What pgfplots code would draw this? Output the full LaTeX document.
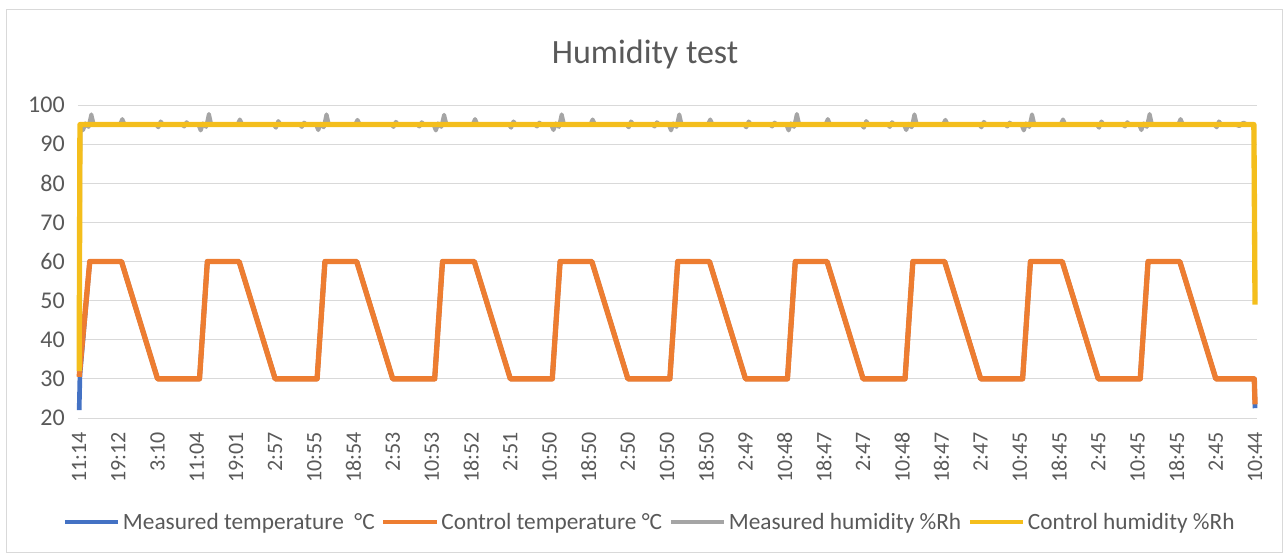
\documentclass[border=0pt]{standalone}
\usepackage{fontspec}
\setmainfont{Carlito}
\usepackage{pgfplots}
\pgfplotsset{compat=1.18}
\definecolor{mtemp}{HTML}{4472C4}
\definecolor{ctemp}{HTML}{ED7D31}
\definecolor{mhum}{HTML}{A5A5A5}
\definecolor{chum}{HTML}{F4BE1C}
\definecolor{txt}{HTML}{595959}
\definecolor{gridc}{HTML}{D9D9D9}

\begin{document}
\begin{tikzpicture}
\useasboundingbox (-58.5pt,-101.25pt) rectangle (907.5pt,313.5pt);
\draw[gridc, line width=0.75pt] (-53.25pt,-100.5pt) rectangle (903pt,306pt);
\begin{axis}[
    at={(0,0)}, anchor=south west,
    scale only axis,
    width=884.25pt, height=234.75pt,
    xmin=-0.03, xmax=30.05,
    ymin=20, ymax=100,
    ytick={20,30,...,100},
    xtick={0,...,30},
    xticklabels={11:14,19:12,3:10,11:04,19:01,2:57,10:55,18:54,2:53,10:53,18:52,2:51,10:50,18:50,2:50,10:50,18:50,2:49,10:48,18:47,2:47,10:48,18:47,2:47,10:45,18:45,2:45,10:45,18:45,2:45,10:44},
    ymajorgrids,
    grid style={gridc, line width=0.75pt},
    axis line style={draw=none},
    tick style={draw=none},
    /pgf/number format/assume math mode=true,
    ticklabel style={text=txt},
    xticklabel style={rotate=90, anchor=east, inner sep=0pt, font=\fontsize{16.5}{17}\selectfont},
    xticklabel shift=10.5pt,
    yticklabel style={anchor=east, inner sep=0pt, font=\fontsize{18}{19}\selectfont},
    yticklabel shift=9.75pt,
    title={Humidity test},
    title style={at={(0.481,1.137)}, anchor=center, font=\fontsize{25.5}{30}\selectfont, text=txt},
    legend columns=4,
    legend style={at={(0.4847,-0.332)}, anchor=center, draw=none, fill=none,
        font=\fontsize{17.5}{20}\selectfont, text=txt,
        nodes={inner sep=1pt},
        /tikz/every odd column/.append style={column sep=1pt},
        /tikz/every even column/.append style={column sep=4pt}},
    legend image code/.code={\draw[#1, line width=3pt] (0pt,0pt) -- (40pt,0pt);},
    clip=false,
]
% measured temperature
\addplot[mtemp, line width=3.5pt, line join=round] coordinates {
(0,22) (0.02,31) (0.27,60) (1.08,60) (2.0,30)
(3.07,30) (3.27,60) (4.08,60) (5.0,30)
(6.07,30) (6.27,60) (7.08,60) (8.0,30)
(9.07,30) (9.27,60) (10.08,60) (11.0,30)
(12.07,30) (12.27,60) (13.08,60) (14.0,30)
(15.07,30) (15.27,60) (16.08,60) (17.0,30)
(18.07,30) (18.27,60) (19.08,60) (20.0,30)
(21.07,30) (21.27,60) (22.08,60) (23.0,30)
(24.07,30) (24.27,60) (25.08,60) (26.0,30)
(27.07,30) (27.27,60) (28.08,60) (29.0,30)
(29.98,30) (30,22.5)
};
% control temperature
\addplot[ctemp, line width=4pt, line join=round] coordinates {
(0,30.5) (0.27,60) (1.08,60) (2.0,30)
(3.07,30) (3.27,60) (4.08,60) (5.0,30)
(6.07,30) (6.27,60) (7.08,60) (8.0,30)
(9.07,30) (9.27,60) (10.08,60) (11.0,30)
(12.07,30) (12.27,60) (13.08,60) (14.0,30)
(15.07,30) (15.27,60) (16.08,60) (17.0,30)
(18.07,30) (18.27,60) (19.08,60) (20.0,30)
(21.07,30) (21.27,60) (22.08,60) (23.0,30)
(24.07,30) (24.27,60) (25.08,60) (26.0,30)
(27.07,30) (27.27,60) (28.08,60) (29.0,30)
(29.98,30) (30,23.5)
};
% measured humidity
\addplot[mhum, line width=3pt, line join=round] coordinates {
(0,32) (0.03,93.5) (0.1,93.6) (0.16,95.3) (0.24,94.4) (0.31,97.6) (0.37,95) (1.04,95) (1.1,96.4) (1.16,95) (1.96,95) (2.02,94.3) (2.08,95.8) (2.14,95) (2.62,95) (2.68,94.5) (2.74,95.6) (2.8,95)
(3.04,95) (3.1,93.5) (3.16,95.3) (3.24,94.4) (3.31,97.7) (3.37,95) (4.04,95) (4.1,96.3) (4.16,95) (4.96,95) (5.02,94.2) (5.08,95.9) (5.14,95) (5.62,95) (5.68,94.4) (5.74,95.5) (5.8,95)
(6.04,95) (6.1,93.6) (6.16,95.2) (6.24,94.3) (6.31,97.6) (6.37,95) (7.04,95) (7.1,96.2) (7.16,95) (7.96,95) (8.02,94.4) (8.08,95.7) (8.14,95) (8.62,95) (8.68,94.5) (8.74,95.6) (8.8,95)
(9.04,95) (9.1,93.5) (9.16,95.3) (9.24,94.4) (9.31,97.5) (9.37,95) (10.04,95) (10.1,96.4) (10.16,95) (10.96,95) (11.02,94.2) (11.08,95.8) (11.14,95) (11.62,95) (11.68,94.5) (11.74,95.5) (11.8,95)
(12.04,95) (12.1,93.6) (12.16,95.3) (12.24,94.4) (12.31,97.6) (12.37,95) (13.04,95) (13.1,96.3) (13.16,95) (13.96,95) (14.02,94.3) (14.08,95.8) (14.14,95) (14.62,95) (14.68,94.5) (14.74,95.6) (14.8,95)
(15.04,95) (15.1,93.5) (15.16,95.3) (15.24,94.4) (15.31,97.6) (15.37,95) (16.04,95) (16.1,96.3) (16.16,95) (16.96,95) (17.02,94.3) (17.08,95.8) (17.14,95) (17.62,95) (17.68,94.5) (17.74,95.5) (17.8,95)
(18.04,95) (18.1,93.5) (18.16,95.3) (18.24,94.4) (18.31,97.7) (18.37,95) (19.04,95) (19.1,96.4) (19.16,95) (19.96,95) (20.02,94.2) (20.08,95.9) (20.14,95) (20.62,95) (20.68,94.4) (20.74,95.6) (20.8,95)
(21.04,95) (21.1,93.6) (21.16,95.2) (21.24,94.3) (21.31,97.6) (21.37,95) (22.04,95) (22.1,96.2) (22.16,95) (22.96,95) (23.02,94.3) (23.08,95.7) (23.14,95) (23.62,95) (23.68,94.5) (23.74,95.5) (23.8,95)
(24.04,95) (24.1,93.5) (24.16,95.3) (24.24,94.4) (24.31,97.6) (24.37,95) (25.04,95) (25.1,96.3) (25.16,95) (25.96,95) (26.02,94.2) (26.08,95.8) (26.14,95) (26.62,95) (26.68,94.5) (26.74,95.6) (26.8,95)
(27.04,95) (27.1,93.6) (27.16,95.3) (27.24,94.4) (27.31,97.7) (27.37,95) (28.04,95) (28.1,96.4) (28.16,95) (28.96,95) (29.02,94.3) (29.08,95.8) (29.14,95) (29.5,95) (29.6,94.6) (29.7,95.5) (29.8,95)
(29.97,95) (30,50)
};
% control humidity
\addplot[chum, line width=4pt, line join=round] coordinates {
(0,32) (0.02,95) (29.97,95) (30,49)
};
\legend{Measured temperature\ \ °C, Control temperature °C, Measured humidity \%Rh, Control humidity \%Rh}
\end{axis}
\end{tikzpicture}
\end{document}
